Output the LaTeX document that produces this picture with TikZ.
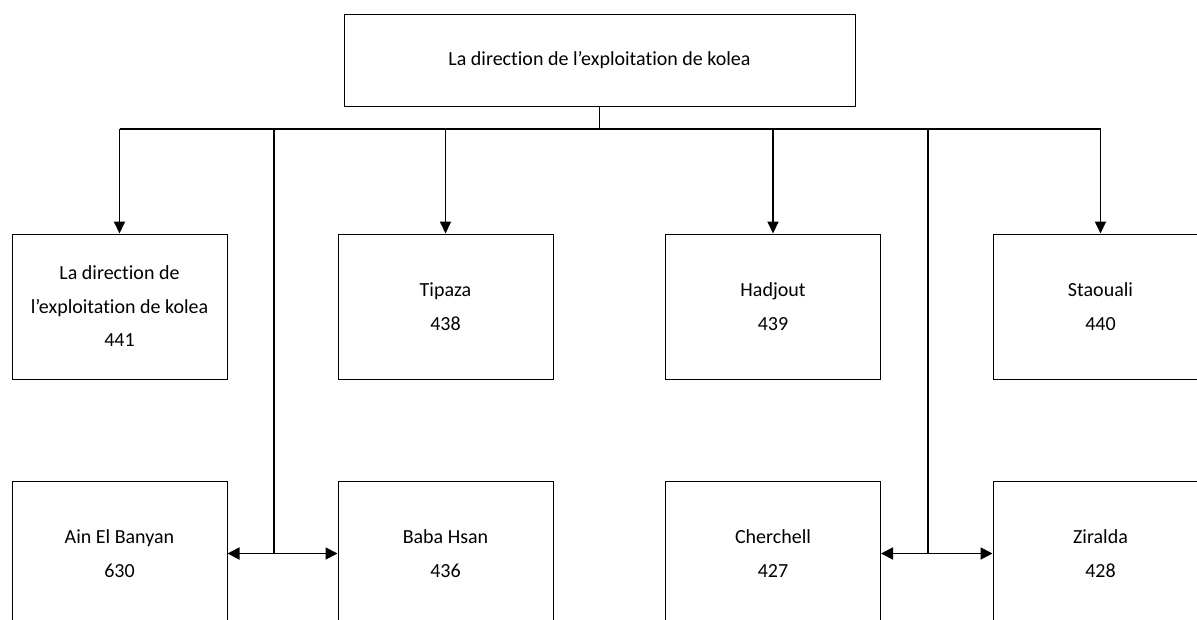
\documentclass[tikz,border=0pt]{standalone}
\usepackage{fontspec}
\setmainfont[Ligatures=CommonOff]{Carlito}
\usetikzlibrary{arrows.meta}
\begin{document}
\begin{tikzpicture}[x=1pt,y=-1pt,
  unit/.style={draw=black, line width=1pt, minimum width=215pt, minimum height=145pt, inner sep=0pt, align=center, font=\fontsize{20}{33.5}\selectfont},
  topbox/.style={unit, minimum width=511pt, minimum height=92pt},
  link/.style={line width=1.8pt},
  tip/.style={-{Triangle[length=12pt,width=11pt]}},
  both/.style={{Triangle[length=12pt,width=12pt]}-{Triangle[length=12pt,width=12pt]}}]
\useasboundingbox (0,0) rectangle (1197,619);
\clip (0,0) rectangle (1197,619);
\fill[white] (0,0) rectangle (1197,619);
\node[topbox] (t) at (599.5,60) {La direction de l’exploitation de kolea};
\node[unit] (a1) at (119.5,306.5) {La direction de\\l’exploitation de kolea\\441};
\node[unit] (a2) at (445.5,306.5) {Tipaza\\438};
\node[unit] (a3) at (773,306.5) {Hadjout\\439};
\node[unit] (a4) at (1100.5,306.5) {Staouali\\440};
\node[unit] (b1) at (119.5,553.5) {Ain El Banyan\\630};
\node[unit] (b2) at (445.5,553.5) {Baba Hsan\\436};
\node[unit] (b3) at (773,553.5) {Cherchell\\427};
\node[unit] (b4) at (1100.5,553.5) {Ziralda\\428};
\coordinate (bus) at (599.5,129);
\coordinate (j1) at (274,553.5);
\coordinate (j2) at (928,553.5);
\draw[link] (t.south) -- (bus);
\draw[link] (a1.north |- bus) -- (a4.north |- bus);
\draw[link,tip] (a1.north |- bus) -- (a1.north);
\draw[link,tip] (a2.north |- bus) -- (a2.north);
\draw[link,tip] (a3.north |- bus) -- (a3.north);
\draw[link,tip] (a4.north |- bus) -- (a4.north);
\draw[link] (j1 |- bus) -- (j1);
\draw[link] (j2 |- bus) -- (j2);
\draw[link,both] (b1.east) -- (b2.west);
\draw[link,both] (b3.east) -- (b4.west);
\end{tikzpicture}
\end{document}
